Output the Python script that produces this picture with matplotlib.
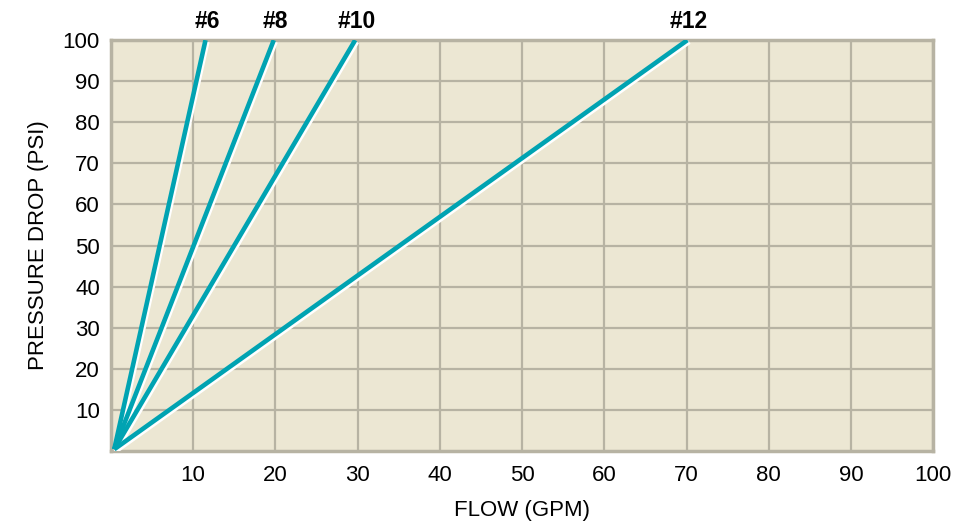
import matplotlib
matplotlib.use("Agg")
import matplotlib.pyplot as plt
import matplotlib.patheffects as pe

# datos: caudal (GPM) para llegar a 100 PSI de caída, por tamaño
sizes = ['#6', '#8', '#10', '#12']
flow_start = [0.4, 0.4, 0.4, 0.4]
psi_start = [0.4, 0.4, 0.4, 0.4]
flow_end = [11.5, 19.8, 29.7, 70.1]
psi_end = [100, 100, 100, 100]

x_ticks = [10, 20, 30, 40, 50, 60, 70, 80, 90, 100]
y_ticks = [10, 20, 30, 40, 50, 60, 70, 80, 90, 100]

BG = '#ECE7D3'
GRID = '#B7B3A3'
TEAL = '#00A3B2'

plt.rcParams['font.family'] = ['Liberation Sans', 'DejaVu Sans']

fig = plt.figure(figsize=(9.54, 5.28), dpi=100)
ax = fig.add_axes([0.1163, 0.146, 0.862, 0.778])
ax.set_facecolor(BG)

for s, x0, y0, x1, y1 in zip(sizes, flow_start, psi_start, flow_end, psi_end):
    ax.plot([x0, x1], [y0, y1], color=TEAL, lw=3.3, solid_capstyle='butt',
            zorder=3,
            path_effects=[pe.SimpleLineShadow(offset=(1.3, -1.3), shadow_color='white',
                                              alpha=1.0), pe.Normal()])
    # etiqueta del tamaño encima del extremo superior
    ax.annotate(s, xy=(x1, y1), xytext=(1, 5), textcoords='offset points',
                ha='center', va='bottom', fontsize=16.5, fontweight='bold',
                annotation_clip=False)

ax.set_xlim(0, 100)
ax.set_ylim(0, 100)
ax.set_xticks(x_ticks)
ax.set_yticks(y_ticks)
ax.tick_params(length=0, labelsize=16, pad=8)
ax.tick_params(axis='x', pad=10)
ax.grid(True, color=GRID, lw=1.6, zorder=1)
ax.set_axisbelow(True)
for sp in ax.spines.values():
    sp.set_color(GRID)
    sp.set_linewidth(2.5)

ax.set_xlabel('FLOW (GPM)', fontsize=16, labelpad=10)
ax.set_ylabel('PRESSURE DROP (PSI)', fontsize=16, labelpad=10)

fig.savefig('out.png', dpi=100)
